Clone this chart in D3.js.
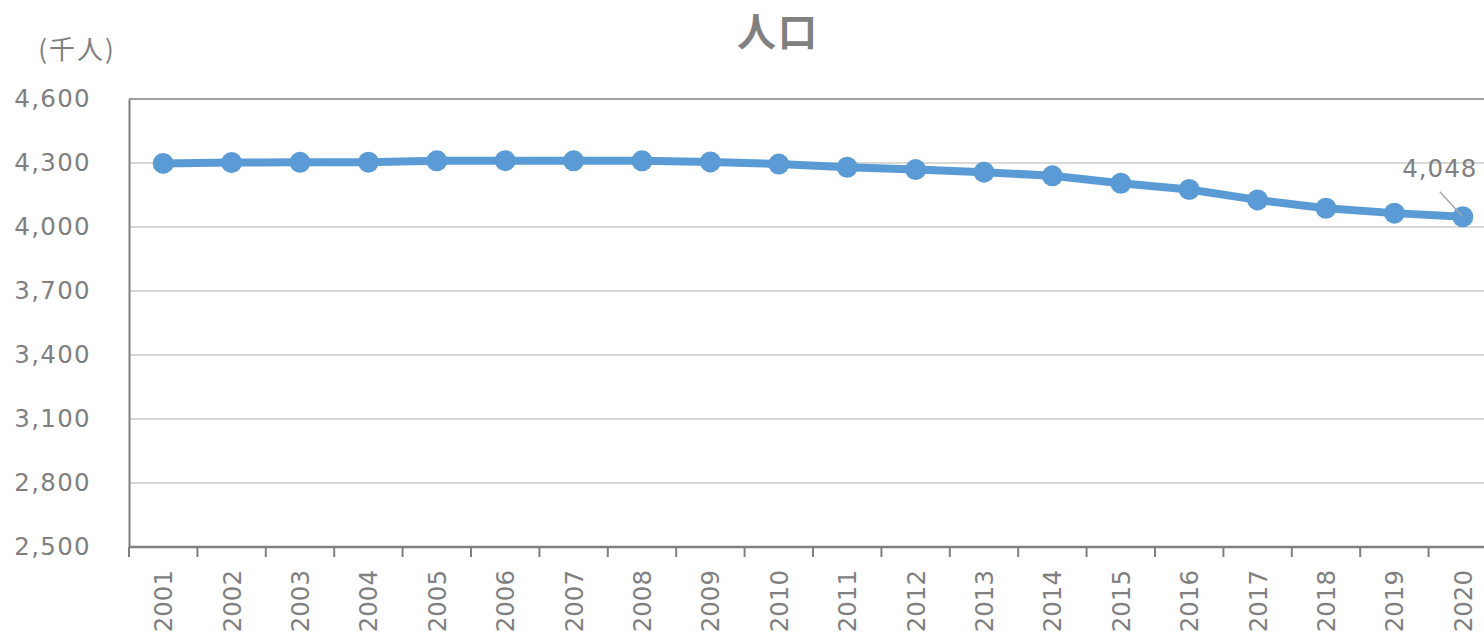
<!DOCTYPE html>
<html>
<head>
<meta charset="utf-8">
<script src="https://cdn.jsdelivr.net/npm/d3@7"></script>
<style>
  html, body { margin: 0; padding: 0; background: #fff; overflow: hidden; }
  svg { display: block; }
</style>
</head>
<body>
<svg id="chart" width="1484" height="639"></svg>
<script>
// Population by year (thousand persons)
const years = ["2001","2002","2003","2004","2005","2006","2007","2008","2009","2010",
               "2011","2012","2013","2014","2015","2016","2017","2018","2019","2020"];
const population = [4298, 4302, 4303, 4304, 4310, 4311, 4310, 4310, 4305, 4295,
                    4280, 4269, 4257, 4240, 4205, 4176, 4127, 4088, 4065, 4048];
const yTicks = [2500, 2800, 3100, 3400, 3700, 4000, 4300, 4600];
const titleText = "人口";
const unitText = "(千人)";

const svg = d3.select("#chart");
const grey = "#808080";
const blue = "#5b9bd5";
const font = "'DejaVu Sans', Verdana, sans-serif";
const cjk = "'Noto Sans CJK JP', 'Noto Sans CJK SC', sans-serif";

const plotLeft = 129, plotTop = 99, plotBottom = 547, step = 68.4;
const plotRight = plotLeft + step * years.length;

const x = d3.scaleBand().domain(years).range([plotLeft, plotRight]).padding(0);
const y = d3.scaleLinear().domain([2500, 4600]).range([plotBottom, plotTop]);

// horizontal gridlines
svg.append("g")
  .selectAll("line")
  .data(yTicks.filter(t => t !== 2500 && t !== 4600))
  .join("line")
  .attr("x1", plotLeft).attr("x2", plotRight)
  .attr("y1", d => y(d)).attr("y2", d => y(d))
  .attr("stroke", "#d9d9d9").attr("stroke-width", 2);

// plot frame top edge
svg.append("line").attr("x1", plotLeft).attr("x2", plotRight).attr("y1", plotTop).attr("y2", plotTop)
  .attr("stroke", grey).attr("stroke-width", 1.5);

// y axis
const yAxis = svg.append("g")
  .attr("transform", `translate(${plotLeft},0)`)
  .call(d3.axisLeft(y).tickValues(yTicks).tickFormat(d3.format(",")).tickSize(0).tickPadding(38));
yAxis.select(".domain").attr("stroke", grey).attr("stroke-width", 2);
yAxis.selectAll("text")
  .attr("fill", grey).style("font-family", font).style("font-size", "24.5px")
  .attr("letter-spacing", "1.3px");

// x axis with ticks at category boundaries
const xAxisG = svg.append("g").attr("transform", `translate(0,${plotBottom})`);
xAxisG.append("line").attr("x1", plotLeft).attr("x2", plotRight).attr("y1", 0).attr("y2", 0)
  .attr("stroke", grey).attr("stroke-width", 2.5);
xAxisG.selectAll("line.tick")
  .data(years)
  .join("line")
  .attr("class", "tick")
  .attr("x1", d => x(d)).attr("x2", d => x(d))
  .attr("y1", 0).attr("y2", 10)
  .attr("stroke", grey).attr("stroke-width", 2);
xAxisG.selectAll("text")
  .data(years)
  .join("text")
  .attr("transform", d => `translate(${x(d) + x.bandwidth() / 2 + 9},23) rotate(-90)`)
  .attr("text-anchor", "end")
  .attr("fill", grey)
  .style("font-family", font).style("font-size", "24.5px")
  .text(d => d);

// line and markers
const cx = d => x(d) + x.bandwidth() / 2;
const pts = years.map((yr, i) => ({ yr, v: population[i] }));
svg.append("path")
  .datum(pts)
  .attr("fill", "none")
  .attr("stroke", blue)
  .attr("stroke-width", 8)
  .attr("stroke-linejoin", "round")
  .attr("d", d3.line().x(d => cx(d.yr)).y(d => y(d.v)));
svg.append("g")
  .selectAll("circle")
  .data(pts)
  .join("circle")
  .attr("cx", d => cx(d.yr)).attr("cy", d => y(d.v))
  .attr("r", 10.5).attr("fill", blue);

// data label on last point
const last = pts[pts.length - 1];
const lx = cx(last.yr), ly = y(last.v);
svg.append("line")
  .attr("x1", lx - 23).attr("y1", ly - 25)
  .attr("x2", lx - 1).attr("y2", ly - 1)
  .attr("stroke", "#a6a6a6").attr("stroke-width", 1.5);
svg.append("text")
  .attr("x", lx - 23).attr("y", ly - 40)
  .attr("text-anchor", "middle")
  .attr("fill", grey)
  .style("font-family", font).style("font-size", "24.5px")
  .attr("letter-spacing", "1px")
  .text(d3.format(",")(last.v));

// title and unit
svg.append("text")
  .attr("x", 778).attr("y", 46)
  .attr("text-anchor", "middle")
  .attr("fill", grey)
  .attr("letter-spacing", "2px")
  .style("font-family", cjk).style("font-weight", "bold").style("font-size", "39px")
  .text(titleText);
svg.append("text")
  .attr("x", 77).attr("y", 59)
  .attr("text-anchor", "middle")
  .attr("fill", grey)
  .attr("letter-spacing", "2px")
  .style("font-family", cjk).style("font-size", "26px")
  .text(unitText);
</script>
</body>
</html>
